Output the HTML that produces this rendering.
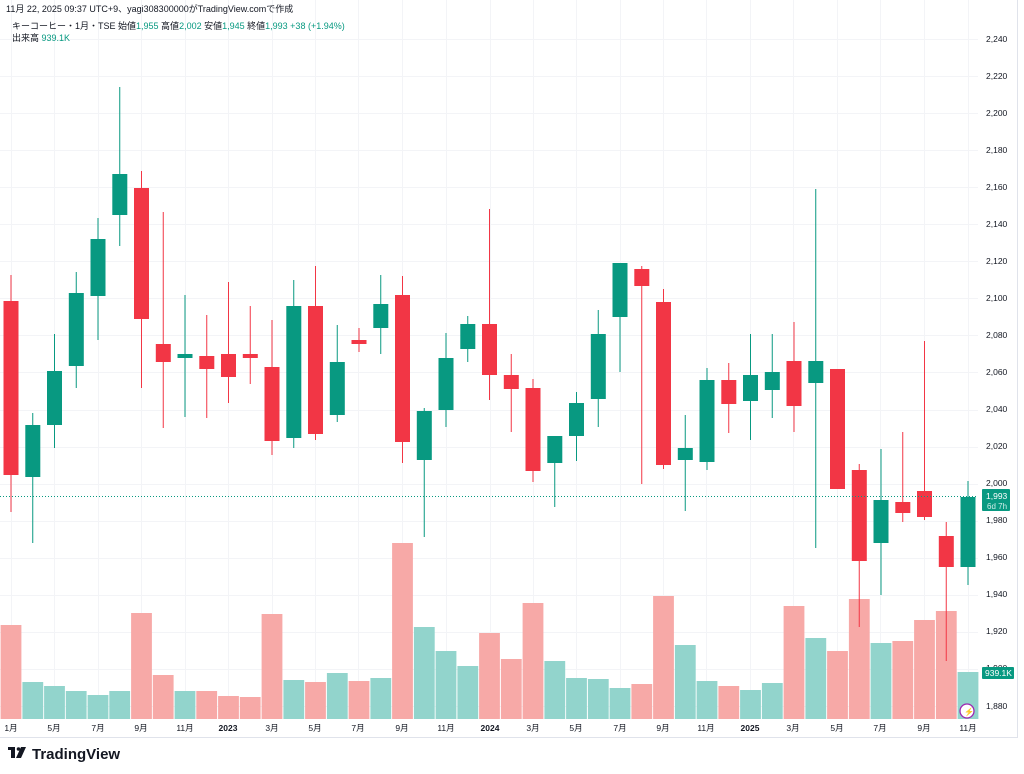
<!DOCTYPE html>
<html><head><meta charset="utf-8"><style>
body{margin:0;background:#fff;width:1024px;height:774px;overflow:hidden;font-family:"Liberation Sans","Noto Sans CJK JP",sans-serif;}
svg{position:absolute;left:0;top:0}
.t{font-size:9px;fill:#131722}
.ax{font-size:8.5px;fill:#131722}
</style></head><body>
<svg id="s" width="1024" height="774" xmlns="http://www.w3.org/2000/svg">
<g id="grid" stroke="#f3f4f7" stroke-width="1"></g>
<g id="vol"></g>
<g id="cdl"></g>
<line x1="0" y1="496.5" x2="978" y2="496.5" stroke="#089981" stroke-dasharray="1,2" stroke-width="1"/>
<line x1="1017.5" y1="0" x2="1017.5" y2="737" stroke="#e0e3eb"/>
<line x1="0" y1="737.5" x2="1018" y2="737.5" stroke="#e0e3eb"/>
<text x="6" y="12" class="t">11月 22, 2025 09:37 UTC+9、yagi308300000がTradingView.comで作成</text>
<text x="12" y="29" class="t">キーコーヒー・1月・TSE  始値<tspan fill="#089981">1,955</tspan>  高値<tspan fill="#089981">2,002</tspan>  安値<tspan fill="#089981">1,945</tspan>  終値<tspan fill="#089981">1,993  +38 (+1.94%)</tspan></text>
<text x="12" y="41" class="t">出来高  <tspan fill="#089981">939.1K</tspan></text>
<g class="ax" text-anchor="start">
<text x="986" y="42">2,240</text><text x="986" y="79">2,220</text><text x="986" y="116">2,200</text><text x="986" y="153">2,180</text><text x="986" y="190">2,160</text><text x="986" y="227">2,140</text><text x="986" y="264">2,120</text><text x="986" y="301">2,100</text><text x="986" y="338">2,080</text><text x="986" y="375">2,060</text><text x="986" y="412">2,040</text><text x="986" y="449">2,020</text><text x="986" y="486">2,000</text><text x="986" y="523">1,980</text><text x="986" y="560">1,960</text><text x="986" y="597">1,940</text><text x="986" y="634">1,920</text><text x="986" y="671">1,900</text><text x="986" y="709">1,880</text>
</g>
<rect x="982" y="489" width="28" height="22" rx="1" fill="#089981"/>
<text x="986" y="499" font-size="8.5" fill="#fff">1,993</text>
<text x="987" y="509" font-size="8" fill="#cfeee9">6d 7h</text>
<rect x="982" y="667" width="32" height="12" rx="1" fill="#089981"/>
<text x="985" y="676" font-size="8.5" fill="#fff">939.1K</text>
<circle cx="967" cy="711" r="7" fill="#fff" stroke="#9c27b0" stroke-width="1.3"/>
<text x="964" y="714.5" font-size="8" fill="#9c27b0">⚡</text>
<g class="ax" text-anchor="middle">
<text x="11" y="731">1月</text><text x="54" y="731">5月</text><text x="98" y="731">7月</text><text x="141" y="731">9月</text><text x="185" y="731">11月</text><text x="228" y="731" font-weight="bold">2023</text><text x="272" y="731">3月</text><text x="315" y="731">5月</text><text x="358" y="731">7月</text><text x="402" y="731">9月</text><text x="446" y="731">11月</text><text x="490" y="731" font-weight="bold">2024</text><text x="533" y="731">3月</text><text x="576" y="731">5月</text><text x="620" y="731">7月</text><text x="663" y="731">9月</text><text x="706" y="731">11月</text><text x="750" y="731" font-weight="bold">2025</text><text x="793" y="731">3月</text><text x="837" y="731">5月</text><text x="880" y="731">7月</text><text x="924" y="731">9月</text><text x="968" y="731">11月</text>
</g>
<g transform="translate(8,747)"><rect x="0" y="0" width="7" height="3" fill="#131722"/><rect x="3" y="0" width="4" height="11" fill="#131722"/><circle cx="10.5" cy="2" r="1.8" fill="#131722"/><path d="M13 0h5l-5 11h-5z" fill="#131722"/></g>
<text x="32" y="759" font-size="15" font-weight="bold" fill="#131722">TradingView</text>
</svg>
<script>
var ns="http://www.w3.org/2000/svg";
function el(p,t,a){var e=document.createElementNS(ns,t);for(var k in a)e.setAttribute(k,a[k]);document.getElementById(p).appendChild(e);}
for(var i=0;i<19;i++){var y=Math.round(39+i*37.05)+.5;el("grid","line",{x1:0,x2:978,y1:y,y2:y});}
[11,54,98,141,185,228,272,315,358,402,446,490,533,576,620,663,706,750,793,837,880,924,968].forEach(function(x){el("grid","line",{x1:x+.5,x2:x+.5,y1:0,y2:719});});
var C=[["r",275,301,475,512],["g",413,425,477,543],["g",334,371,425,448],["g",272,293,366,388],["g",218,239,296,340],["g",87,174,215,246],["r",171,188,319,388],["r",212,344,362,428],["g",295,354,358,417],["r",315,356,369,418],["r",282,354,377,403],["r",306,354,358,384],["r",320,367,441,455],["g",280,306,438,448],["r",266,306,434,440],["g",325,362,415,422],["r",328,340,344,352],["g",275,304,328,354],["r",276,295,442,463],["g",408,411,460,537],["g",333,358,410,427],["g",316,324,349,362],["r",209,324,375,400],["r",354,375,389,432],["r",379,388,471,482],["g",436,436,463,507],["g",392,403,436,461],["g",310,334,399,427],["g",263,263,317,372],["r",266,269,286,484],["r",289,302,465,469],["g",415,448,460,511],["g",368,380,462,470],["r",363,380,404,433],["g",334,375,401,440],["g",334,372,390,418],["r",322,361,406,432],["g",189,361,383,548],["r",369,369,489,489],["r",464,470,561,627],["g",449,500,543,595],["r",432,502,513,522],["r",341,491,517,520],["r",522,536,567,661],["g",481,497,567,585]];
var V=[625,682,686,691,695,691,613,675,691,691,696,697,614,680,682,673,681,678,543,627,651,666,633,659,603,661,678,679,688,684,596,645,681,686,690,683,606,638,651,599,643,641,620,611,672];
for(var i=0;i<45;i++){var x=968-21.75*(44-i),c=C[i],col=c[0]=="r"?"#f23645":"#089981",vc=c[0]=="r"?"#f7a9a7":"#92d4cc";
el("vol","rect",{x:(x-10.4).toFixed(1),y:V[i],width:20.8,height:719-V[i],fill:vc});
el("cdl","line",{x1:x,x2:x,y1:c[1],y2:c[4],stroke:col,"stroke-width":1});
el("cdl","rect",{x:(x-7.5).toFixed(1),y:c[2],width:15,height:Math.max(2,c[3]-c[2]),fill:col});}
</script>
</body></html>
